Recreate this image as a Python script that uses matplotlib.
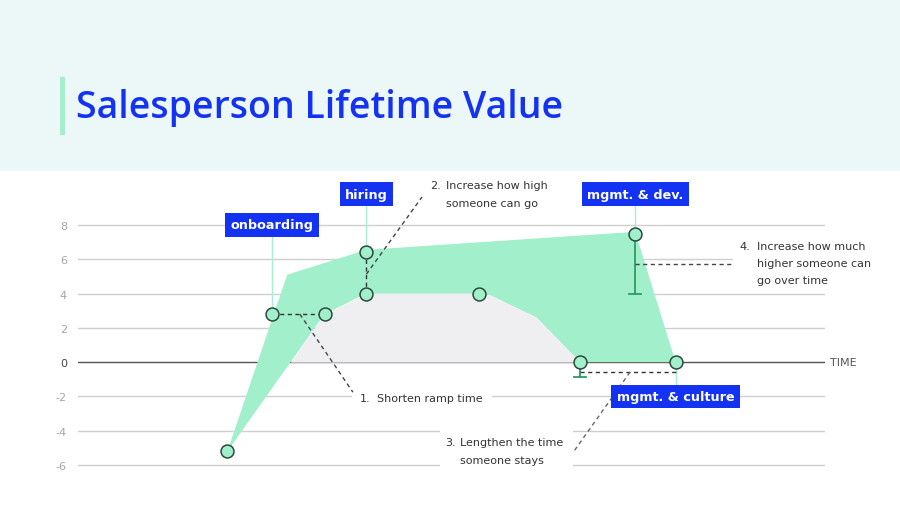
import matplotlib
matplotlib.use("Agg")
import matplotlib.pyplot as plt
from matplotlib.patches import Rectangle
import numpy as np

# ---------------- data ----------------
yticks = [-6, -4, -2, 0, 2, 4, 6, 8]
ytick_labels = ["-6", "-4", "-2", "0", "2", "4", "6", "8"]

# upper edge of the green "potential" area
upper_x = [20, 28, 38.6, 74.6, 80]
upper_y = [-5.2, 5.1, 6.55, 7.6, 0]
# lower edge (current lifetime value curve)
lower_x = [20, 33, 38.6, 53.7, 55.2, 61.4, 67.2, 80]
lower_y = [-5.2, 2.8, 4.0, 4.0, 3.9, 2.6, 0, 0]

# milestone points
point_x = [20, 26, 33, 38.6, 38.6, 53.7, 67.2, 74.6, 80]
point_y = [-5.2, 2.8, 2.8, 4.0, 6.4, 4.0, 0, 7.5, 0]

stage_labels = ["onboarding", "hiring", "mgmt. & dev.", "mgmt. & culture"]
stage_x = [26, 38.6, 74.6, 80]
stage_y = [8.0, 9.8, 9.8, -2.0]
stage_anchor_y = [2.8, 6.4, 7.5, 0]

# ---------------- style ----------------
BLUE = "#1432F2"
GREEN_FILL = "#A2EFCB"
GREEN_LINE = "#A8EED0"
ERR_GREEN = "#2E9B64"
GRAY_FILL = "#EFEEF1"
GRID = "#CFCFCF"
TXT = "#333333"
FONT = "DejaVu Sans"

plt.rcParams["font.family"] = [FONT]

fig = plt.figure(figsize=(9, 5.06), dpi=100)
fig.patch.set_facecolor("white")

# header band
fig.patches.append(Rectangle((0, 1 - 172 / 506), 1, 172 / 506, transform=fig.transFigure,
                             facecolor="#EBF8F7", edgecolor="none", zorder=0))
fig.patches.append(Rectangle((60 / 900, (506 - 136) / 506), 5 / 900, 58 / 506,
                             transform=fig.transFigure, facecolor="#A4EECB",
                             edgecolor="none", zorder=1))
fig.text(76 / 900, (506 - 108) / 506, "Salesperson Lifetime Value", color=BLUE,
         fontsize=27, fontweight="semibold", family=["Open Sans", "DejaVu Sans"],
         va="center", ha="left")

ax = fig.add_axes([78 / 900, (506 - 474.6) / 506, 747 / 900, 257.2 / 506])
ax.set_xlim(0, 100)
ax.set_ylim(-6.5, 8.5)
for s in ax.spines.values():
    s.set_visible(False)
ax.set_xticks([])
ax.set_yticks(yticks)
ax.set_yticklabels(ytick_labels)
ax.tick_params(axis="y", length=0, pad=8, labelsize=8, labelcolor="#A5A5A5")
for lab in ax.get_yticklabels():
    if lab.get_text() == "0":
        lab.set_color("#444444")
ax.set_facecolor("none")

# gridlines
for t in yticks:
    if t == 0:
        ax.axhline(t, color="#555555", lw=1.0, zorder=1)
    else:
        ax.axhline(t, color=GRID, lw=1.0, zorder=1)

# green area
poly_x = list(upper_x) + list(lower_x[::-1])
poly_y = list(upper_y) + list(lower_y[::-1])
ax.fill(poly_x, poly_y, color=GREEN_FILL, lw=0, zorder=2)
# gray area under the curve
lx = np.array(lower_x, dtype=float)
ly = np.array(lower_y, dtype=float)
ax.fill_between(lx, ly, 0, where=ly > 0, interpolate=True, color=GRAY_FILL, lw=0, zorder=2)

# white backgrounds behind the notes
for (x0, x1, y0, y1) in [(36.7, 55.4, -2.62, -1.58), (48.5, 66.3, -6.5, -3.7), (87.7, 101, 4.3, 7.3)]:
    ax.add_patch(Rectangle((x0, y0), x1 - x0, y1 - y0, facecolor="white", edgecolor="none",
                           zorder=3, clip_on=False))

# connectors from labels
for sx, sy, ay in zip(stage_x, stage_y, stage_anchor_y):
    ax.plot([sx, sx], [sy, ay], color=GREEN_LINE, lw=1.0, zorder=4, clip_on=False)

# error bars
ax.plot([74.6, 74.6], [7.5, 4.0], color=ERR_GREEN, lw=1.3, zorder=5)
ax.plot([73.8, 75.4], [4.0, 4.0], color=ERR_GREEN, lw=1.3, zorder=5)
ax.plot([67.2, 67.2], [0, -0.88], color=ERR_GREEN, lw=1.3, zorder=5)
ax.plot([66.4, 68.0], [-0.88, -0.88], color=ERR_GREEN, lw=1.3, zorder=5)

# dashed helper lines
dash = dict(color=TXT, lw=1.0, ls=(0, (3, 2.5)), zorder=5, clip_on=False)
ax.plot([26, 33], [2.8, 2.8], **dash)
ax.plot([38.6, 38.6], [4.0, 6.4], **dash)
ax.plot([29.7, 36.8], [2.8, -1.75], **dict(dash, color="#444444"))
ax.plot([38.6, 46.05], [5.13, 9.63], **dict(dash, color="#444444"))
ax.plot([67.2, 80], [-0.58, -0.58], **dash)
ax.plot([73.9, 66.4], [-0.58, -5.19], **dict(dash, color="#666666"))
ax.plot([74.6, 87.7], [5.72, 5.72], **dict(dash, color="#444444"))

# points
ax.plot(point_x, point_y, ls="none", marker="o", ms=9.3, mfc=GREEN_FILL, mec="#2C4A3C",
        mew=1.1, zorder=6, clip_on=False)

# stage label boxes
for lab, sx, sy in zip(stage_labels, stage_x, stage_y):
    ax.text(sx, sy, lab, color="white", fontsize=9.2, fontweight="bold", ha="center",
            va="center", zorder=7, clip_on=False,
            bbox=dict(boxstyle="square,pad=0.42", facecolor=BLUE, edgecolor="none"))

# notes
nt = dict(color=TXT, fontsize=8, va="center", ha="left", zorder=7, clip_on=False)
ax.text(37.75, -2.1, "1.", **nt)
ax.text(40.0, -2.1, "Shorten ramp time", **nt)
ax.text(47.1, 10.33, "2.", **nt)
ax.text(49.3, 10.33, "Increase how high", **nt)
ax.text(49.3, 9.28, "someone can go", **nt)
ax.text(49.1, -4.67, "3.", **nt)
ax.text(51.1, -4.67, "Lengthen the time", **nt)
ax.text(51.1, -5.72, "someone stays", **nt)
ax.text(88.6, 6.77, "4.", **nt)
ax.text(90.9, 6.77, "Increase how much", **nt)
ax.text(90.9, 5.78, "higher someone can", **nt)
ax.text(90.9, 4.78, "go over time", **nt)
ax.text(100.7, 0, "TIME", color="#555555", fontsize=8, va="center", ha="left", clip_on=False)

fig.savefig("out.png", dpi=100)
